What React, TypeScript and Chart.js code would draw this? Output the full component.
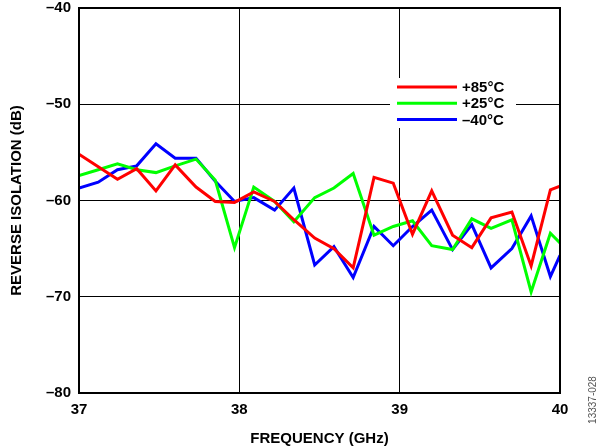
import React, { useEffect, useRef } from "react";
import { Chart, registerables } from "chart.js";

Chart.register(...registerables);

const freqGHz = [
  37.0, 37.12, 37.24, 37.36, 37.48, 37.6, 37.73, 37.85, 37.97, 38.09, 38.22, 38.34, 38.47,
  38.59, 38.71, 38.84, 38.96, 39.08, 39.2, 39.33, 39.45, 39.57, 39.7, 39.82, 39.94, 40.0,
];
const iso85 = [
  -55.2, -56.5, -57.8, -56.7, -59.0, -56.3, -58.6, -60.1, -60.2, -59.1, -60.1, -62.0, -63.9,
  -65.0, -67.0, -57.6, -58.2, -63.5, -59.0, -63.6, -64.9, -61.8, -61.2, -66.8, -58.9, -58.5,
];
const iso25 = [
  -57.4, -56.8, -56.2, -56.8, -57.1, -56.4, -55.7, -57.9, -64.9, -58.6, -60.1, -62.2, -59.7,
  -58.7, -57.2, -63.6, -62.7, -62.1, -64.7, -65.1, -61.9, -62.9, -62.0, -69.5, -63.4, -64.4,
];
const isoM40 = [
  -58.7, -58.1, -56.8, -56.4, -54.1, -55.6, -55.6, -58.0, -60.1, -59.7, -61.0, -58.7, -66.7,
  -64.8, -68.0, -62.7, -64.7, -62.7, -61.0, -65.1, -62.5, -67.0, -65.0, -61.6, -67.9, -65.7,
];
const seriesLabels = ["+85°C", "+25°C", "–40°C"];
const seriesColors = ["#ff0000", "#00ff00", "#0000ff"];
const xTicks = [37, 38, 39, 40];
const yTicks = [-40, -50, -60, -70, -80];

const FONT = "'Liberation Sans', Arial, sans-serif";

export default function App() {
  const ref = useRef<HTMLCanvasElement | null>(null);
  useEffect(() => {
    if (!ref.current) return;
    const toPts = (ys: number[]) => ys.map((y, i) => ({ x: freqGHz[i], y }));
    const all = [iso85, iso25, isoM40];

    const framePlugin = {
      id: "frame",
      afterDatasetsDraw(chart: any) {
        const { ctx, chartArea: a } = chart;
        ctx.save();
        ctx.strokeStyle = "#000";
        ctx.lineWidth = 2;
        ctx.strokeRect(a.left, a.top, a.right - a.left, a.bottom - a.top);
        // legend
        const lx = 390, ly = 78, lw = 126, lh = 50;
        ctx.fillStyle = "#fff";
        ctx.fillRect(lx, ly, lw, lh);
        ctx.font = `bold 15px ${FONT}`;
        ctx.textBaseline = "middle";
        ctx.textAlign = "left";
        seriesLabels.forEach((lab, i) => {
          const y = 87 + i * 16.3;
          ctx.strokeStyle = seriesColors[i];
          ctx.lineWidth = 3;
          ctx.beginPath();
          ctx.moveTo(397, y);
          ctx.lineTo(457, y);
          ctx.stroke();
          ctx.fillStyle = "#000";
          ctx.fillText(lab, 462, y + 1);
        });
        // figure id
        ctx.save();
        ctx.translate(593, 400);
        ctx.rotate(-Math.PI / 2);
        ctx.font = `10px ${FONT}`;
        ctx.fillStyle = "#555";
        ctx.textAlign = "center";
        ctx.fillText("13337-028", 0, 0);
        ctx.restore();
        ctx.restore();
      },
    };

    const chart = new Chart(ref.current, {
      type: "line",
      data: {
        datasets: all.map((ys, i) => ({
          label: seriesLabels[i],
          data: toPts(ys),
          borderColor: seriesColors[i],
          backgroundColor: seriesColors[i],
          borderWidth: 3,
          pointRadius: 0,
          tension: 0,
          fill: false,
        })),
      },
      options: {
        animation: false,
        responsive: false,
        devicePixelRatio: 1,
        layout: { padding: { left: 0, right: 40, top: 8, bottom: 0 } },
        plugins: { legend: { display: false }, tooltip: { enabled: false } },
        scales: {
          x: {
            type: "linear",
            min: 37,
            max: 40,
            afterBuildTicks: (s: any) => {
              s.ticks = xTicks.map((v) => ({ value: v }));
            },
            afterFit: (s: any) => {
              s.height = 55;
              s.paddingLeft = 0;
              s.paddingRight = 0;
            },
            grid: { color: "#000", lineWidth: 1, drawTicks: false },
            border: { color: "#000", width: 2 },
            ticks: {
              color: "#000",
              font: { family: FONT, size: 15, weight: "bold" },
              padding: 8,
              maxRotation: 0,
            },
            title: {
              display: true,
              text: "FREQUENCY (GHz)",
              color: "#000",
              font: { family: FONT, size: 15, weight: "bold" },
              padding: { top: 4, bottom: 0 },
            },
          },
          y: {
            min: -80,
            max: -40,
            afterBuildTicks: (s: any) => {
              s.ticks = yTicks.map((v) => ({ value: v }));
            },
            afterFit: (s: any) => {
              s.width = 79;
              s.paddingTop = 0;
              s.paddingBottom = 0;
            },
            grid: { color: "#000", lineWidth: 1, drawTicks: false },
            border: { color: "#000", width: 2 },
            ticks: {
              color: "#000",
              font: { family: FONT, size: 15, weight: "bold" },
              padding: 8,
              callback: (v: any) => "–" + Math.abs(Number(v)),
            },
            title: {
              display: true,
              text: "REVERSE ISOLATION (dB)",
              color: "#000",
              font: { family: FONT, size: 15, weight: "bold" },
              padding: { top: 8, bottom: 0 },
            },
          },
        },
      },
      plugins: [framePlugin],
    } as any);
    return () => chart.destroy();
  }, []);

  return (
    <div style={{ position: "fixed", left: 0, top: 0, width: 600, height: 448, background: "#fff" }}>
      <canvas ref={ref} width={600} height={448} style={{ width: 600, height: 448 }} />
    </div>
  );
}
